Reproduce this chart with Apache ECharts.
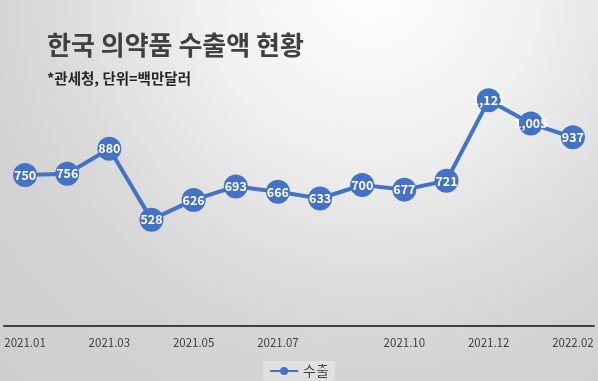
<!DOCTYPE html>
<html><head><meta charset="utf-8">
<script src="https://cdn.jsdelivr.net/npm/echarts@6/dist/echarts.min.js"></script>
<style>html,body{margin:0;padding:0;}#c{width:598px;height:381px;}</style>
</head><body><div id="c"></div>
<script>
const categories = ['2021.01','2021.02','2021.03','2021.04','2021.05','2021.06','2021.07','2021.08','2021.09','2021.10','2021.11','2021.12','2022.01','2022.02'];
const exports = [750, 756, 880, 528, 626, 693, 666, 633, 700, 677, 721, 1121, 1005, 937];
const shownLabels = ['2021.01','2021.03','2021.05','2021.07','2021.10','2021.12','2022.02'];
const seriesName = '수출';
const titleText = '한국 의약품 수출액 현황';
const subText = '*관세청, 단위=백만달러';

const font = '"Noto Sans CJK KR", "Noto Sans", sans-serif';
const chart = echarts.init(document.getElementById('c'), null, {renderer: 'canvas'});
chart.setOption({
  backgroundColor: {
    type: 'radial', x: 370, y: -20, r: 560, global: true,
    colorStops: [
      {offset: 0, color: '#ffffff'},
      {offset: 0.3, color: '#f0f0f0'},
      {offset: 0.55, color: '#dcdcdc'},
      {offset: 0.68, color: '#d4d4d4'},
      {offset: 1, color: '#cdcdcd'}
    ]
  },
  title: {
    text: titleText, subtext: subText, left: 42, top: 27, itemGap: 13,
    textStyle: {fontFamily: font, fontSize: 26, fontWeight: 'bold', color: '#404040'},
    subtextStyle: {fontFamily: font, fontSize: 14.5, fontWeight: 'bold', color: '#262626'}
  },
  legend: {
    bottom: 0, left: 'center', data: [seriesName],
    itemWidth: 28, itemHeight: 10, itemGap: 2, padding: [3, 6, 3, 6],
    backgroundColor: 'rgba(255,255,255,0.3)',
    textStyle: {fontFamily: font, fontSize: 14, color: '#404040'}
  },
  grid: {left: 4, right: 4, top: 44, bottom: 55, containLabel: false},
  xAxis: {
    type: 'category', data: categories, boundaryGap: true,
    axisLine: {lineStyle: {color: '#404040', width: 2}},
    axisTick: {show: false},
    axisLabel: {
      interval: 0, margin: 11, color: '#404040', fontFamily: font, fontSize: 11.5,
      formatter: v => shownLabels.includes(v) ? v : ''
    }
  },
  yAxis: {type: 'value', min: 0, max: 1400, show: false, splitLine: {show: false}},
  series: [{
    name: seriesName, type: 'line', data: exports,
    symbol: 'circle', symbolSize: 24,
    lineStyle: {color: '#4472C4', width: 4},
    itemStyle: {color: '#4472C4'},
    label: {
      show: true, position: 'inside', color: '#ffffff', fontFamily: font,
      fontSize: 12.5, fontWeight: 'bold',
      formatter: p => p.value.toLocaleString('en-US')
    }
  }]
});
</script></body></html>
